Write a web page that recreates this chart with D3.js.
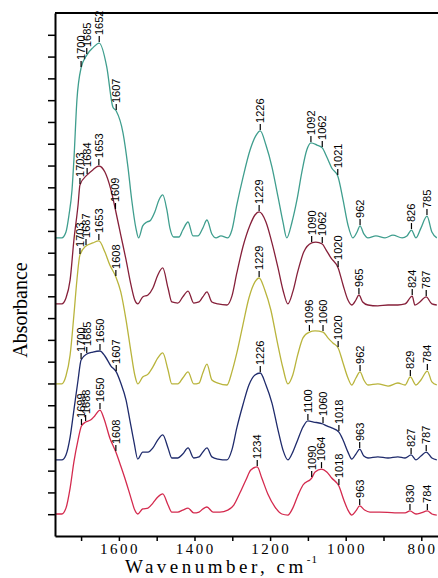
<!DOCTYPE html>
<html>
<head>
<meta charset="utf-8">
<script src="https://cdn.jsdelivr.net/npm/d3@7/dist/d3.min.js"></script>
<style>
  body { margin: 0; background: #fff; }
  svg { display: block; }
</style>
</head>
<body>
<svg width="438" height="578"></svg>
<script>
// FTIR spectra, stacked (offset) — [wavenumber cm-1, absorbance a.u.]
const specA = [[1769,1.368],[1751,1.368],[1740,1.395],[1732,1.473],[1724,1.588],[1719,1.726],[1711,2.001],[1700,2.148],[1685,2.207],[1669,2.240],[1652,2.262],[1632,2.152],[1616,1.969],[1607,1.950],[1589,1.849],[1576,1.693],[1566,1.542],[1555,1.413],[1548,1.368],[1537,1.423],[1526,1.441],[1518,1.446],[1505,1.487],[1494,1.542],[1484,1.565],[1473,1.496],[1465,1.413],[1455,1.372],[1441,1.372],[1431,1.404],[1417,1.441],[1404,1.377],[1391,1.377],[1378,1.413],[1367,1.450],[1354,1.386],[1343,1.368],[1330,1.377],[1312,1.368],[1301,1.404],[1288,1.519],[1272,1.643],[1253,1.771],[1238,1.836],[1226,1.859],[1211,1.794],[1195,1.693],[1179,1.556],[1166,1.441],[1156,1.368],[1142,1.441],[1129,1.542],[1116,1.670],[1103,1.771],[1092,1.804],[1076,1.794],[1062,1.781],[1050,1.739],[1037,1.689],[1021,1.652],[1007,1.542],[994,1.427],[981,1.368],[970,1.395],[962,1.423],[952,1.386],[941,1.368],[920,1.377],[896,1.368],[875,1.381],[851,1.368],[838,1.377],[826,1.404],[814,1.368],[801,1.413],[785,1.468],[772,1.395],[759,1.368]];

const specB = [[1769,1.065],[1751,1.065],[1740,1.092],[1729,1.175],[1719,1.358],[1708,1.519],[1703,1.611],[1684,1.657],[1669,1.680],[1653,1.698],[1637,1.670],[1621,1.588],[1609,1.496],[1595,1.381],[1581,1.267],[1568,1.152],[1558,1.083],[1550,1.065],[1537,1.097],[1523,1.106],[1510,1.138],[1497,1.198],[1484,1.230],[1470,1.138],[1460,1.074],[1444,1.069],[1431,1.097],[1417,1.124],[1402,1.069],[1388,1.074],[1378,1.097],[1367,1.120],[1354,1.074],[1338,1.065],[1314,1.060],[1301,1.101],[1288,1.207],[1272,1.326],[1253,1.427],[1240,1.473],[1229,1.487],[1211,1.441],[1195,1.345],[1179,1.230],[1166,1.129],[1153,1.065],[1140,1.120],[1127,1.212],[1111,1.303],[1090,1.345],[1079,1.349],[1062,1.340],[1052,1.313],[1039,1.276],[1020,1.230],[1007,1.152],[994,1.083],[984,1.060],[973,1.083],[965,1.106],[955,1.074],[941,1.060],[915,1.056],[888,1.060],[862,1.060],[843,1.065],[824,1.101],[817,1.060],[807,1.069],[787,1.097],[772,1.065],[759,1.060]];

const specC = [[1769,0.698],[1751,0.698],[1740,0.734],[1729,0.831],[1719,1.014],[1711,1.175],[1703,1.290],[1687,1.331],[1669,1.345],[1653,1.354],[1637,1.303],[1624,1.244],[1608,1.189],[1595,1.120],[1581,0.991],[1568,0.844],[1558,0.739],[1550,0.698],[1537,0.730],[1523,0.743],[1510,0.776],[1497,0.817],[1484,0.840],[1470,0.762],[1460,0.698],[1444,0.698],[1431,0.725],[1417,0.753],[1402,0.698],[1388,0.702],[1378,0.748],[1367,0.789],[1354,0.716],[1338,0.702],[1314,0.693],[1301,0.753],[1288,0.840],[1272,0.968],[1256,1.092],[1240,1.166],[1229,1.184],[1214,1.129],[1198,1.037],[1182,0.899],[1166,0.771],[1153,0.698],[1140,0.739],[1127,0.831],[1113,0.909],[1096,0.936],[1081,0.941],[1060,0.936],[1047,0.909],[1034,0.886],[1020,0.863],[1007,0.794],[994,0.725],[984,0.693],[973,0.725],[962,0.753],[952,0.716],[941,0.693],[915,0.698],[888,0.688],[862,0.702],[843,0.693],[829,0.730],[814,0.693],[801,0.716],[784,0.757],[772,0.707],[759,0.693]];

const specD = [[1769,0.349],[1751,0.349],[1740,0.372],[1729,0.454],[1719,0.578],[1708,0.716],[1700,0.808],[1685,0.835],[1669,0.844],[1650,0.849],[1637,0.826],[1621,0.780],[1607,0.753],[1595,0.702],[1581,0.624],[1571,0.532],[1560,0.431],[1550,0.353],[1537,0.385],[1523,0.385],[1510,0.404],[1497,0.441],[1484,0.464],[1470,0.404],[1460,0.358],[1444,0.358],[1431,0.376],[1417,0.404],[1402,0.358],[1388,0.363],[1378,0.385],[1367,0.404],[1354,0.363],[1338,0.353],[1314,0.349],[1301,0.395],[1288,0.496],[1272,0.601],[1256,0.693],[1240,0.739],[1226,0.748],[1211,0.693],[1195,0.610],[1179,0.486],[1166,0.395],[1153,0.349],[1140,0.385],[1127,0.441],[1113,0.500],[1100,0.528],[1085,0.523],[1060,0.514],[1050,0.505],[1037,0.496],[1018,0.477],[1007,0.441],[994,0.385],[984,0.353],[973,0.376],[963,0.399],[952,0.367],[941,0.358],[915,0.363],[888,0.358],[862,0.363],[843,0.358],[827,0.372],[814,0.349],[801,0.367],[787,0.385],[772,0.358],[759,0.349]];

const specE = [[1769,0.101],[1751,0.101],[1740,0.128],[1729,0.220],[1719,0.340],[1708,0.441],[1699,0.505],[1688,0.523],[1675,0.532],[1664,0.551],[1650,0.578],[1640,0.542],[1624,0.450],[1608,0.385],[1595,0.321],[1581,0.248],[1568,0.174],[1558,0.119],[1550,0.101],[1537,0.124],[1523,0.128],[1510,0.151],[1497,0.179],[1484,0.193],[1470,0.142],[1460,0.110],[1444,0.110],[1431,0.119],[1417,0.128],[1402,0.106],[1388,0.110],[1378,0.124],[1367,0.133],[1351,0.110],[1333,0.110],[1312,0.119],[1296,0.142],[1280,0.197],[1264,0.257],[1251,0.303],[1234,0.317],[1222,0.266],[1206,0.193],[1187,0.133],[1169,0.101],[1153,0.096],[1140,0.128],[1127,0.184],[1113,0.234],[1090,0.266],[1081,0.294],[1064,0.307],[1050,0.294],[1037,0.266],[1018,0.229],[1005,0.165],[994,0.119],[984,0.096],[973,0.115],[963,0.138],[950,0.119],[936,0.110],[910,0.110],[870,0.106],[843,0.106],[830,0.115],[814,0.101],[801,0.106],[784,0.115],[772,0.101],[759,0.096]];

// peak labels for each spectrum
const peaksA = [1700, 1685, 1652, 1607, 1226, 1092, 1062, 1021, 962, 826, 785];
const peaksB = [1703, 1684, 1653, 1609, 1229, 1090, 1062, 1020, 965, 824, 787];
const peaksC = [1703, 1687, 1653, 1608, 1229, 1096, 1060, 1020, 962, 829, 784];
const peaksD = [1700, 1685, 1650, 1607, 1226, 1100, 1060, 1018, 963, 827, 787];
const peaksE = [1699, 1688, 1650, 1608, 1234, 1090, 1064, 1018, 963, 830, 784];

const colors = ['#3f9e8e', '#86203a', '#b9b43c', '#1f2b6c', '#d42a4e'];

const xTicks = [1700, 1600, 1500, 1400, 1300, 1200, 1100, 1000, 900, 800];
const xLabels = [1600, 1400, 1200, 1000, 800];

const spectra = [specA, specB, specC, specD, specE];
const peaks = [peaksA, peaksB, peaksC, peaksD, peaksE];

const svg = d3.select('svg');

// wavenumber axis runs right to left
const x = d3.scaleLinear().domain([1769, 750]).range([55, 440.2]);
const y = d3.scaleLinear().domain([0, 2.4]).range([536, 13]);

const line = d3.line()
  .x((d) => x(d[0]))
  .y((d) => y(d[1]))
  .curve(d3.curveMonotoneX);

// spectra
svg.selectAll('path.spec')
  .data(spectra)
  .enter()
  .append('path')
  .attr('class', 'spec')
  .attr('d', line)
  .attr('fill', 'none')
  .attr('stroke', (d, i) => colors[i])
  .attr('stroke-width', 1.3);

// value of a spectrum at a wavenumber (for placing peak marks)
const valueAt = (spec, w) => {
  for (let i = 0; i < spec.length - 1; i++) {
    const a = spec[i], b = spec[i + 1];
    if (w <= a[0] && w >= b[0]) {
      const t = (a[0] - w) / (a[0] - b[0]);
      return a[1] + t * (b[1] - a[1]);
    }
  }
  return spec[0][1];
};

// peak marks: short tick plus rotated number
peaks.forEach((list, s) => {
  const g = svg.append('g');
  const marks = g.selectAll('g')
    .data(list)
    .enter()
    .append('g')
    .attr('transform', (w) => `translate(${x(w)},${y(valueAt(spectra[s], w)) - 1})`);

  marks.append('line')
    .attr('y1', 0)
    .attr('y2', -6)
    .attr('stroke', '#000')
    .attr('stroke-width', 1.2);

  marks.append('text')
    .attr('transform', 'rotate(-90)')
    .attr('x', 7)
    .attr('dy', '0.36em')
    .attr('font-family', 'Liberation Sans, Arial, sans-serif')
    .attr('font-size', 11)
    .attr('fill', '#000')
    .text((w) => w);
});

// axes
const xAxis = d3.axisBottom(x)
  .tickValues(xTicks)
  .tickSize(5)
  .tickSizeOuter(0)
  .tickFormat('');

const yAxis = d3.axisLeft(y)
  .tickValues(d3.range(1, 24).map((i) => i * 0.1))
  .tickSize(7)
  .tickSizeOuter(0)
  .tickFormat('');

const gx = svg.append('g').attr('transform', 'translate(0,536)').call(xAxis);
const gy = svg.append('g').attr('transform', 'translate(55,0)').call(yAxis);

[gx, gy].forEach((g) => {
  g.select('.domain').attr('stroke', '#000').attr('stroke-width', 2);
  g.selectAll('.tick line').attr('stroke', '#000').attr('stroke-width', 1.5);
});

// top frame line
svg.append('line')
  .attr('x1', 55).attr('x2', 440)
  .attr('y1', y(2.4)).attr('y2', y(2.4))
  .attr('stroke', '#000')
  .attr('stroke-width', 2);

// x tick labels (spaced serif digits)
svg.selectAll('text.xlab')
  .data(xLabels)
  .enter()
  .append('text')
  .attr('class', 'xlab')
  .attr('x', (d) => x(d) + 1.2)
  .attr('y', 554)
  .attr('text-anchor', 'middle')
  .attr('font-family', 'Liberation Serif, Times New Roman, serif')
  .attr('font-size', 15)
  .attr('letter-spacing', 2.5)
  .text((d) => d);

// axis titles
svg.append('text')
  .attr('transform', 'translate(27,310) rotate(-90)')
  .attr('text-anchor', 'middle')
  .attr('font-family', 'Liberation Serif, Times New Roman, serif')
  .attr('font-size', 20)
  .text('Absorbance');

const xt = svg.append('text')
  .attr('x', 125)
  .attr('y', 573)
  .attr('font-family', 'Liberation Serif, Times New Roman, serif')
  .attr('font-size', 19)
  .attr('letter-spacing', 3.5);
xt.append('tspan').text('Wavenumber, cm');
xt.append('tspan')
  .attr('font-size', 11)
  .attr('dy', -10)
  .attr('letter-spacing', 1)
  .text('-1');
</script>
</body>
</html>
